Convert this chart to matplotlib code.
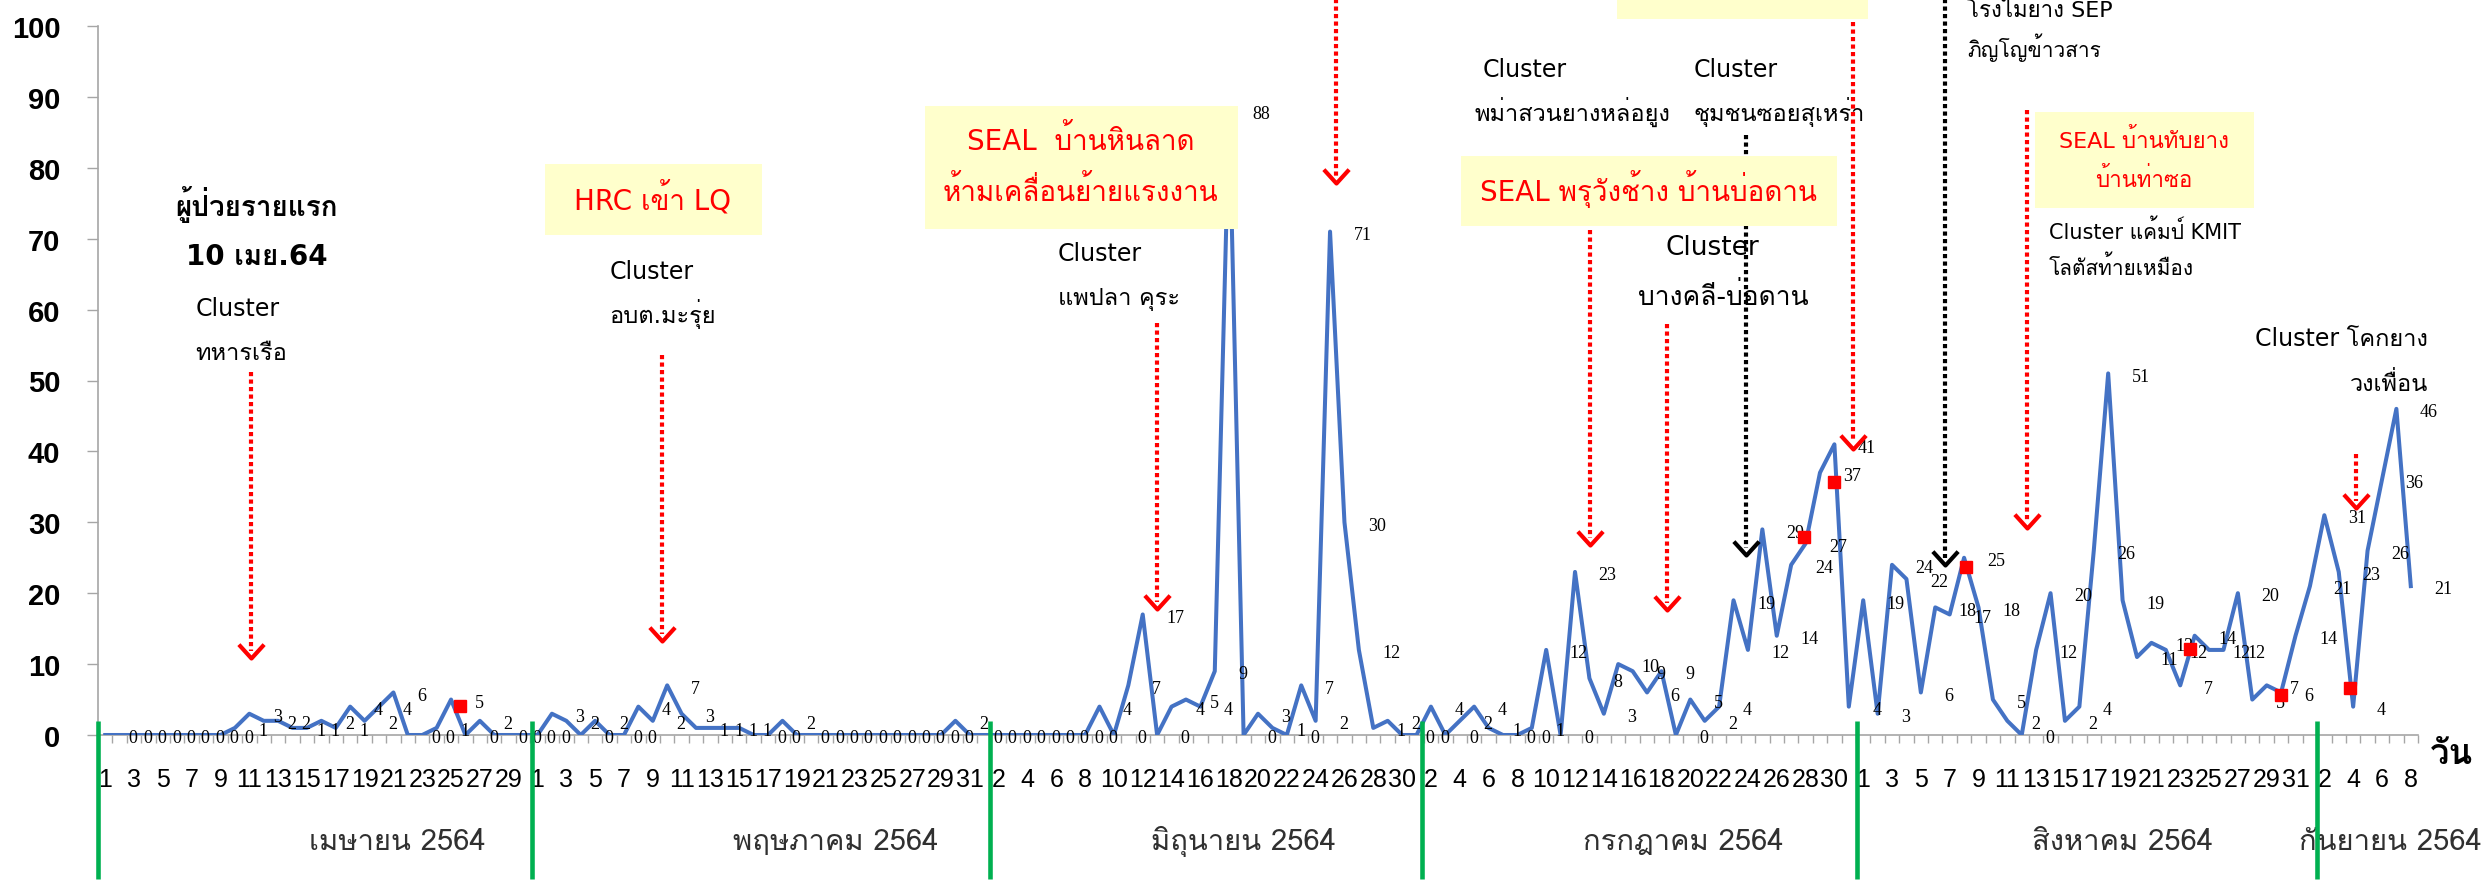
import matplotlib
matplotlib.use('Agg')
import matplotlib.pyplot as plt
from matplotlib import font_manager as fm
from matplotlib.patches import Rectangle
from matplotlib.path import Path
import numpy as np

# ---------------- data ----------------
april = [0,0,0,0,0,0,0,0,0,1,3,2,2,1,1,2,1,4,2,4,6,0,0,1,5,0,2,0,0,0]
may = [0,3,2,0,2,0,0,4,2,7,3,1,1,1,1,0,0,2,0,0,0,0,0,0,0,0,0,0,0,2,0]
june = [0,0,0,0,0,0,0,0,4,0,7,17,0,4,5,4,9,88,0,3,1,0,7,2,71,30,12,1,2,0]
july = [0,4,0,2,4,1,0,0,1,12,0,23,8,3,10,9,6,9,0,5,2,4,19,12,29,14,24,27,37,41,4]
august = [19,3,24,22,6,18,17,25,18,5,2,0,12,20,2,4,26,51,19,11,13,12,7,14,12,12,20,5,7,6,14]
september = [21,31,23,4,26,36,46,21]
month_days = [30, 31, 30, 31, 31, 8]
month_names = ["เมษายน 2564", "พฤษภาคม 2564", "มิถุนายน 2564",
               "กรกฎาคม 2564", "สิงหาคม 2564", "กันยายน 2564"]
# hand-placed red square markers (day index, value)
red_x = [24.6, 117.9, 120.0, 129.1, 144.7, 151.0, 155.8]
red_y = [4.1, 27.9, 35.7, 23.7, 12.2, 5.7, 6.6]

values = april + may + june + july + august + september
days = [d for n in month_days for d in range(1, n + 1)]

# ---------------- fonts ----------------
available = {f.name for f in fm.fontManager.ttflist}
TH = 'DejaVu Sans'
for pref in ['Loma', 'Noto Sans Thai Looped', 'Noto Sans Thai UI', 'Noto Sans Thai']:
    if pref in available:
        TH = pref
        break
MIX = ['DejaVu Sans', TH]
THF = [TH, 'DejaVu Sans']

# ---------------- figure ----------------
W, H = 2484, 887
fig = plt.figure(figsize=(W / 100, H / 100), dpi=100)
ax = fig.add_axes([98 / W, 1 - 736 / H, (2418 - 98) / W, 709 / H])

x = np.arange(len(values))
ax.plot(x, values, color='#4472C4', lw=2.9, zorder=3)
ax.plot(red_x, red_y, linestyle='none', marker='s', ms=8.5, color='#FF0000', zorder=4.5)

for xi, v in zip(x, values):
    ax.annotate(str(v), (xi, v), xytext=(17, -2), textcoords='offset points',
                ha='left', va='center', fontsize=13, family='Liberation Serif',
                color='black', zorder=4)

ax.set_xlim(-0.5, len(values) - 0.5)
ax.set_ylim(0, 100)
for s in ['top', 'right']:
    ax.spines[s].set_visible(False)
for s in ['left', 'bottom']:
    ax.spines[s].set_color('#A6A6A6')
    ax.spines[s].set_linewidth(1.2)

ax.set_yticks(range(0, 101, 10))
ax.tick_params(axis='y', direction='out', length=8, width=1, color='#A6A6A6', pad=19)
for lab in ax.get_yticklabels():
    lab.set_fontfamily('Liberation Sans')
    lab.set_fontweight('bold')
    lab.set_fontsize(21)

even = x[::2]
ax.set_xticks(even)
ax.set_xticklabels([str(days[i]) for i in even], fontsize=18, family='Liberation Sans')
ax.set_xticks(np.arange(-0.5, len(values), 1.0), minor=True)
ax.tick_params(axis='x', which='major', length=0, pad=23)
ax.tick_params(axis='x', which='minor', direction='out', length=6, width=1, color='#A6A6A6')

# month separators (hand-drawn green bars) and month names
month_sep = [-0.5, 29.6, 61.4, 91.4, 121.6, 153.5]
for gx in month_sep:
    ax.plot([gx, gx], [2.0, -20.3], color='#00B050', lw=3.3, clip_on=False,
            zorder=6, solid_capstyle='butt')
month_cx = [20.3, 50.7, 79.0, 109.5, 140.0, 158.6]
for cx, name in zip(month_cx, month_names):
    ax.text(cx, -16.1, name, ha='center', va='baseline', fontsize=21,
            family=THF, color='#303030', clip_on=False)
ax.text(161.3, -3.9, 'วัน', ha='left', va='baseline', fontsize=25,
        fontweight='bold', family=THF, clip_on=False)

# ---------------- annotations ----------------
YEL = '#FFFFCC'
RED = '#FF0000'

def box(x0, x1, y0, y1):
    ax.add_patch(Rectangle((x0, y0), x1 - x0, y1 - y0, facecolor=YEL,
                           edgecolor='none', zorder=5, clip_on=False))

chev = Path([(-1, 1.1), (0, 0), (1, 1.1)], [Path.MOVETO, Path.LINETO, Path.LINETO])

def arrow(xa, ytop, ytip, color):
    ax.plot([xa, xa], [ytop, ytip + 1.0], color=color, lw=3.0,
            linestyle=(0, (1.0, 0.8)), clip_on=False, zorder=4.2)
    ax.plot([xa], [ytip], marker=chev, ms=20, mec=color, mfc='none', mew=3.0,
            clip_on=False, zorder=4.2)

def txt(xt, yt, s, size=17, ha='left', color='black', weight='normal', fam=None):
    ax.text(xt, yt, s, ha=ha, va='baseline', fontsize=size, color=color,
            fontweight=weight, family=fam or MIX, clip_on=False, zorder=6)

# first patient
txt(10.5, 73.3, 'ผู้ป่วยรายแรก', size=20, ha='center', weight='bold')
txt(10.5, 66.4, '10 เมย.64', size=20, ha='center', weight='bold')
txt(6.25, 59.2, 'Cluster')
txt(6.25, 53.0, 'ทหารเรือ')
arrow(10.1, 51.2, 10.9, RED)

# HRC
box(30.5, 45.6, 70.5, 80.5)
txt(38.0, 74.3, 'HRC เข้า LQ', size=20, ha='center', color=RED)
txt(35.0, 64.5, 'Cluster')
txt(35.0, 58.2, 'อบต.มะรุ่ย')
arrow(38.65, 53.6, 13.3, RED)

# SEAL Hin Lat
box(56.9, 78.6, 71.4, 88.7)
txt(67.7, 82.7, 'SEAL  บ้านหินลาด', size=20, ha='center', color=RED)
txt(67.7, 75.5, 'ห้ามเคลื่อนย้ายแรงงาน', size=20, ha='center', color=RED)
txt(66.1, 67.0, 'Cluster')
txt(66.1, 60.8, 'แพปลา คุระ')
arrow(73.0, 58.1, 17.8, RED)
arrow(85.4, 110, 77.9, RED)

# July clusters
txt(95.6, 92.9, 'Cluster')
txt(95.0, 86.8, 'พม่าสวนยางหล่อยูง')
txt(110.2, 92.9, 'Cluster')
txt(110.2, 86.8, 'ชุมชนซอยสุเหร่า')
arrow(113.9, 84.6, 25.4, 'black')
box(94.1, 120.2, 71.8, 81.7)
txt(107.1, 75.5, 'SEAL พรุวังช้าง บ้านบ่อดาน', size=20, ha='center', color=RED)
txt(111.5, 67.9, 'Cluster', size=19, ha='center')
txt(112.3, 60.8, 'บางคลี-บ่อดาน', size=19, ha='center')
arrow(103.05, 71.2, 26.8, RED)
arrow(108.4, 58.0, 17.6, RED)
box(104.9, 122.3, 101.0, 112.0)
arrow(121.3, 100.6, 40.3, RED)

# August
arrow(127.7, 110, 24.0, 'black')
txt(129.2, 101.4, 'โรงไม้ยาง SEP', size=16)
txt(129.2, 95.8, 'ภิญโญข้าวสาร', size=15)
arrow(133.4, 88.2, 29.2, RED)
box(133.9, 149.1, 74.3, 87.9)
txt(141.5, 82.9, 'SEAL บ้านทับยาง', size=16, ha='center', color=RED)
txt(141.5, 77.5, 'บ้านท่าซอ', size=16, ha='center', color=RED)
txt(134.9, 70.1, 'Cluster แค้มป์ KMIT', size=15)
txt(134.9, 65.0, 'โลตัสท้ายเหมือง', size=15)

# September
txt(161.2, 55.0, 'Cluster โคกยาง', size=17, ha='right')
txt(161.2, 48.6, 'วงเพื่อน', size=17, ha='right')
arrow(156.2, 39.6, 32.0, RED)

fig.savefig('out.png', dpi=100)
